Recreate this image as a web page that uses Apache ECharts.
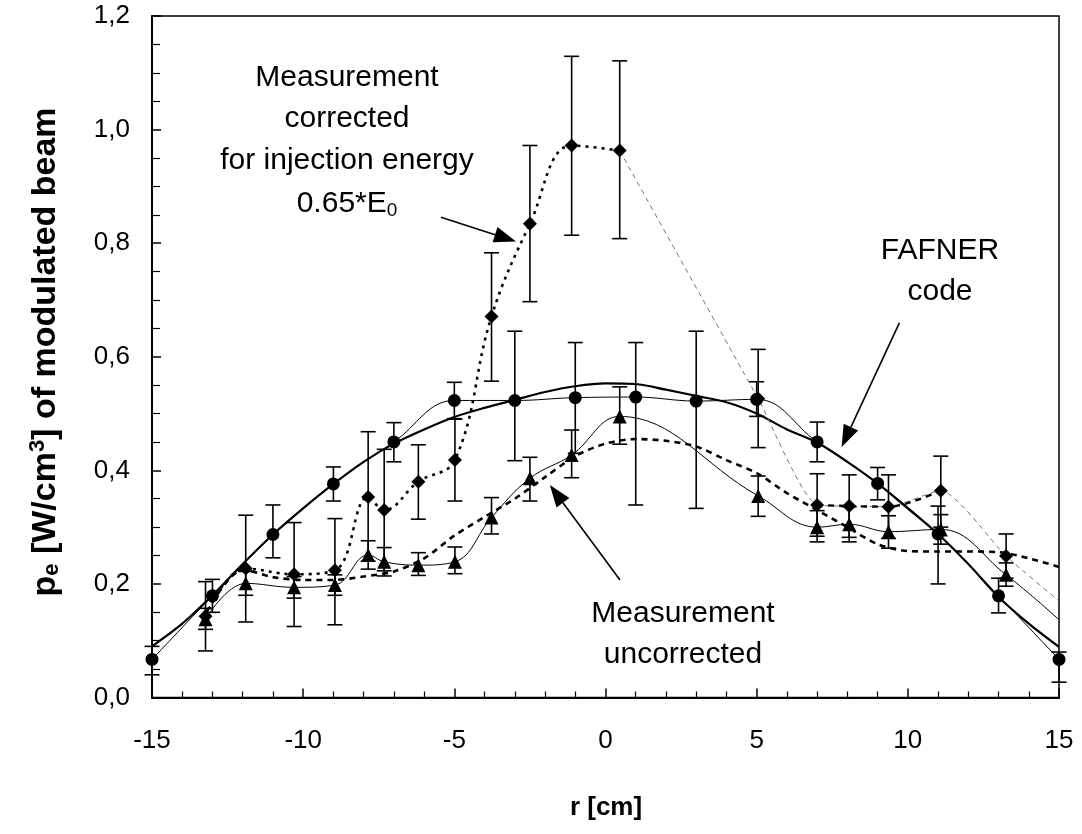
<!DOCTYPE html>
<html><head><meta charset="utf-8">
<script src="https://cdn.jsdelivr.net/npm/echarts@6/dist/echarts.min.js"></script>
<style>html,body{margin:0;padding:0;background:#fff}#c{width:1082px;height:834px}</style>
</head><body><div id="c"></div>
<script>
const FONT = '"Liberation Sans", Arial, sans-serif';

// Symmetrised measurement (circles)
const circleR  = [-15, -13, -11, -9, -7, -5, -3, -1, 1, 3, 5, 7, 9, 11, 13, 15];
const circleP  = [0.067, 0.179, 0.287, 0.376, 0.450, 0.523, 0.523, 0.528, 0.529, 0.522, 0.525, 0.450, 0.377, 0.288, 0.179, 0.067];
const circleLo = [0.040, 0.150, 0.246, 0.346, 0.415, 0.491, 0.417, 0.430, 0.339, 0.333, 0.495, 0.415, 0.348, 0.200, 0.149, 0.027];
const circleHi = [0.090, 0.208, 0.339, 0.406, 0.484, 0.555, 0.645, 0.625, 0.625, 0.645, 0.556, 0.485, 0.405, 0.337, 0.210, 0.080];

// Measurement positions (diamonds = corrected, triangles = uncorrected)
const measR  = [-13.23, -11.9, -10.3, -8.95, -7.85, -7.32, -6.19, -4.98, -3.77, -2.5, -1.12, 0.47, 5.05, 7.0, 8.06, 9.36, 11.09, 13.25];
const corrP  = [0.143, 0.227, 0.217, 0.224, 0.353, 0.330, 0.380, 0.418, 0.671, 0.834, 0.972, 0.963, 0.526, 0.339, 0.337, 0.336, 0.364, 0.249];
const corrLo = [0.082, 0.133, 0.125, 0.128, 0.240, 0.223, 0.314, 0.346, 0.557, 0.697, 0.814, 0.808, 0.440, 0.284, 0.282, 0.280, 0.300, 0.210];
const corrHi = [0.204, 0.321, 0.308, 0.315, 0.468, 0.437, 0.445, 0.490, 0.783, 0.972, 1.129, 1.121, 0.613, 0.394, 0.392, 0.392, 0.425, 0.288];
const uncP   = [0.138, 0.201, 0.194, 0.198, 0.251, 0.239, 0.233, 0.239, 0.317, 0.386, 0.427, 0.495, 0.355, 0.300, 0.305, 0.292, 0.296, 0.216];
const uncLo  = [0.120, 0.180, 0.175, 0.180, 0.226, 0.214, 0.215, 0.218, 0.288, 0.346, 0.387, 0.446, 0.319, 0.274, 0.274, 0.263, 0.270, 0.196];
const uncHi  = [0.157, 0.222, 0.213, 0.216, 0.276, 0.264, 0.255, 0.265, 0.352, 0.423, 0.471, 0.547, 0.390, 0.329, 0.336, 0.320, 0.322, 0.237];
// line continuations to the right border
const corrEnd = [15, 0.17];
const uncEnd  = [15, 0.137];

// thick dashed curve accompanying the uncorrected measurement
const fitR = [-13.2, -12, -11, -10, -9, -8, -7, -6, -5, -4, -3, -2, -1, 0, 1, 2, 3, 4, 5, 6, 7, 8, 9, 10, 11, 12, 13, 14, 15];
const fitP = [0.150, 0.225, 0.212, 0.207, 0.207, 0.213, 0.222, 0.245, 0.285, 0.318, 0.350, 0.388, 0.425, 0.447, 0.455, 0.452, 0.442, 0.418, 0.395, 0.360, 0.330, 0.300, 0.270, 0.258, 0.257, 0.257, 0.256, 0.245, 0.230];

// FAFNER code
const fafR = [-15, -14, -13, -12, -11, -10, -9, -8, -7, -6, -5, -4, -3, -2, -1, 0, 1, 2, 3, 4, 5, 6, 7, 8, 9, 10, 11, 12, 13, 14, 15];
const fafP = [0.090, 0.130, 0.180, 0.235, 0.287, 0.333, 0.376, 0.415, 0.447, 0.472, 0.494, 0.510, 0.524, 0.538, 0.548, 0.553, 0.552, 0.542, 0.531, 0.520, 0.500, 0.472, 0.449, 0.415, 0.377, 0.333, 0.288, 0.235, 0.177, 0.130, 0.089];

const yTickLabels = ['0,0', '0,2', '0,4', '0,6', '0,8', '1,0', '1,2'];

const zip = (a, b) => a.map((v, i) => [v, b[i]]);
const zip3 = (a, b, c) => a.map((v, i) => [v, b[i], c[i]]);

function errRender(params, api) {
  const x = api.value(0), lo = api.value(1), hi = api.value(2);
  const a = api.coord([x, lo]), b = api.coord([x, hi]);
  const w = 7.5, st = {stroke: '#000', lineWidth: 1.6};
  return {type: 'group', children: [
    {type: 'line', shape: {x1: a[0], y1: a[1], x2: b[0], y2: b[1]}, style: st},
    {type: 'line', shape: {x1: a[0] - w, y1: a[1], x2: a[0] + w, y2: a[1]}, style: st},
    {type: 'line', shape: {x1: b[0] - w, y1: b[1], x2: b[0] + w, y2: b[1]}, style: st}
  ]};
}
function errSeries(data) {
  return {type: 'custom', renderItem: errRender, data: data, encode: {x: 0, y: [1, 2]}, z: 3, silent: true};
}
function lineSeries(data, style, smooth) {
  return {type: 'line', data: data, symbol: 'none', smooth: smooth, lineStyle: style, z: 2, silent: true};
}
function markSeries(data, symbol, size) {
  return {type: 'scatter', data: data, symbol: symbol, symbolSize: size, itemStyle: {color: '#000', opacity: 1}, z: 5, silent: true};
}

const chart = echarts.init(document.getElementById('c'), null, {renderer: 'canvas'});
const option = {
  animation: false,
  backgroundColor: '#fff',
  grid: {left: 152, right: 23, top: 16, bottom: 136.5, show: true, borderColor: '#000', borderWidth: 1.5},
  xAxis: {
    type: 'value', min: -15, max: 15, interval: 5,
    axisLine: {onZero: false, lineStyle: {color: '#000', width: 2}},
    axisTick: {inside: true, length: 9, lineStyle: {color: '#000', width: 1.5}},
    minorTick: {show: true, splitNumber: 5, length: 6, lineStyle: {color: '#000', width: 1.2}},
    splitLine: {show: false},
    axisLabel: {fontSize: 26, color: '#000', fontFamily: FONT, margin: 30}
  },
  yAxis: {
    type: 'value', min: 0, max: 1.2, interval: 0.2,
    axisLine: {onZero: false, lineStyle: {color: '#000', width: 2}},
    axisTick: {inside: true, length: 9, lineStyle: {color: '#000', width: 1.5}},
    minorTick: {show: true, splitNumber: 4, length: 8, lineStyle: {color: '#000', width: 1.2}},
    splitLine: {show: false},
    axisLabel: {fontSize: 26, color: '#000', fontFamily: FONT, margin: 22,
      formatter: v => yTickLabels[Math.round(v / 0.2)]}
  },
  series: [
    lineSeries(zip(fafR, fafP), {color: '#000', width: 2.2}, 0.3),
    lineSeries(zip(circleR, circleP), {color: '#000', width: 1}, 0.4),
    lineSeries(zip(measR, uncP).concat([uncEnd]), {color: '#000', width: 1}, 0.4),
    lineSeries(zip(fitR, fitP), {color: '#000', width: 2.6, type: [6, 5]}, 0.3),
    lineSeries(zip(measR.slice(0, 12), corrP.slice(0, 12)), {color: '#000', width: 2.6, type: [3, 5]}, 0.4),
    lineSeries(zip(measR.slice(11), corrP.slice(11)).concat([corrEnd]), {color: '#777', width: 1, type: [5, 4]}, 0.2),
    lineSeries(zip(measR.slice(13, 17), corrP.slice(13, 17)), {color: '#000', width: 2.4, type: [6, 5]}, 0.3),
    errSeries(zip3(circleR, circleLo, circleHi)),
    errSeries(zip3(measR, corrLo, corrHi)),
    errSeries(zip3(measR, uncLo, uncHi)),
    markSeries(zip(circleR, circleP), 'circle', 13),
    markSeries(zip(measR, corrP), 'diamond', 14),
    markSeries(zip(measR, uncP), 'triangle', 14)
  ]
};
chart.setOption(option);

// annotations (arrows given in data coordinates)
const arrows = [
  [[-5.44, 0.8455], [-2.96, 0.803]],
  [[9.72, 0.6595], [7.81, 0.441]],
  [[0.48, 0.2068], [-1.84, 0.374]]
];
const g = [];
arrows.forEach(([s, t]) => {
  const p = chart.convertToPixel({gridIndex: 0}, s);
  const q = chart.convertToPixel({gridIndex: 0}, t);
  const dx = q[0] - p[0], dy = q[1] - p[1], L = Math.hypot(dx, dy);
  const ux = dx / L, uy = dy / L, hl = 22, hw = 8;
  const bx = q[0] - ux * hl, by = q[1] - uy * hl;
  g.push({type: 'line', shape: {x1: p[0], y1: p[1], x2: bx, y2: by}, style: {stroke: '#000', lineWidth: 1.6}, z: 10});
  g.push({type: 'polygon', shape: {points: [[q[0], q[1]], [bx - uy * hw, by + ux * hw], [bx + uy * hw, by - ux * hw]]}, style: {fill: '#000'}, z: 10});
});
const txt = (x, y, text, rich) => ({type: 'text', x: x, y: y, z: 10,
  style: {text: text, font: '30px ' + FONT, fill: '#000', align: 'center', verticalAlign: 'middle', rich: rich}});
const subRich = {n: {font: '30px ' + FONT, fill: '#000'}, s: {font: '19px ' + FONT, fill: '#000', verticalAlign: 'bottom', padding: [14, 0, 0, 0]}};
g.push(txt(347, 78, 'Measurement'));
g.push(txt(347, 119, 'corrected'));
g.push(txt(347, 161, 'for injection energy'));
g.push(txt(347, 204, '{n|0.65*E}{s|0}', subRich));
g.push(txt(940, 251, 'FAFNER'));
g.push(txt(940, 292, 'code'));
g.push(txt(683, 614, 'Measurement'));
g.push(txt(683, 655, 'uncorrected'));
// axis titles
g.push({type: 'text', x: 606, y: 808, z: 10,
  style: {text: 'r [cm]', font: 'bold 26px ' + FONT, fill: '#000', align: 'center', verticalAlign: 'middle'}});
g.push({type: 'text', x: 46, y: 352, rotation: Math.PI / 2, z: 10,
  style: {text: '{b|p}{bs|e}{b| [W/cm}{bp|3}{b|] of modulated beam}', align: 'center', verticalAlign: 'middle',
    rich: {
      b: {font: 'bold 34px ' + FONT, fill: '#000'},
      bs: {font: 'bold 22px ' + FONT, fill: '#000', padding: [12, 0, 0, 0]},
      bp: {font: 'bold 22px ' + FONT, fill: '#000', padding: [0, 0, 16, 0]}
    }}});
chart.setOption({graphic: {elements: g}});
</script>
</body></html>
